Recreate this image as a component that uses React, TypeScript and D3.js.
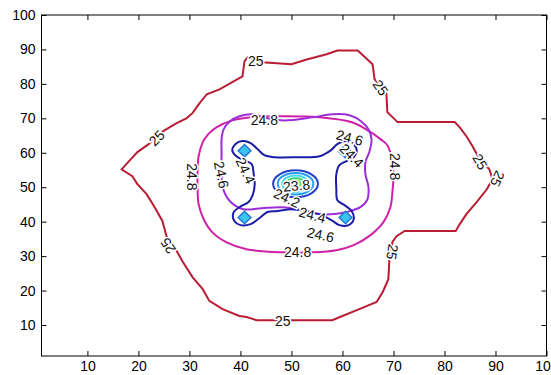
import React, { useEffect, useRef } from 'react'
import * as d3 from 'd3'

const xTicks = [10, 20, 30, 40, 50, 60, 70, 80, 90, 100]
const yTicks = [10, 20, 30, 40, 50, 60, 70, 80, 90, 100]

// contour lines, points (data units)
const contour25: [number, number][] = [
  [16.7, 55.2], [18.3, 57.8], [19.8, 60.2], [22.0, 62.5], [23.6, 64.8], [25.1, 66.5],
  [27.5, 68.6], [29.4, 70.0], [30.6, 71.5], [31.4, 73.2], [32.0, 74.4], [33.4, 77.0],
  [35.9, 78.4], [38.4, 80.5], [40.4, 82.2], [40.8, 86.6], [41.4, 87.7], [44.3, 86.3],
  [50.0, 85.7], [53.0, 87.1], [56.9, 88.6], [59.0, 89.7], [63.0, 89.7], [64.9, 87.1],
  [65.9, 85.7], [66.3, 81.3], [68.6, 77.6], [68.8, 71.8], [70.8, 68.9], [82.0, 68.9],
  [83.0, 67.4], [84.3, 64.8], [85.5, 61.9], [86.9, 58.1], [88.8, 55.2], [89.4, 52.3],
  [88.3, 49.4], [86.3, 45.7], [84.3, 42.2], [83.0, 39.3], [82.2, 37.3], [72.2, 37.3],
  [70.6, 35.8], [69.8, 34.1], [69.2, 29.1], [69.0, 23.3], [67.9, 19.6], [66.7, 16.7],
  [63.3, 14.6], [60.0, 12.6], [58.0, 11.4], [43.2, 11.4], [41.2, 12.3], [39.8, 12.6],
  [36.5, 14.6], [33.9, 17.0], [32.6, 20.4], [30.6, 23.9], [28.6, 28.6], [27.5, 31.5],
  [25.5, 35.8], [24.7, 40.2], [23.6, 43.1], [22.8, 45.1], [21.6, 48.0], [19.8, 50.9],
  [18.8, 53.2]
]

const contour248: [number, number][] = [
  [31.6, 49.4], [31.6, 55.2], [31.8, 59.0], [32.6, 63.0], [33.7, 65.4], [35.3, 67.4],
  [38.4, 69.4], [42.0, 70.3], [47.7, 70.6], [55.5, 70.3], [62.0, 68.8], [65.3, 66.2],
  [67.5, 63.9], [68.8, 62.2], [69.6, 58.7], [70.0, 53.8], [69.8, 48.8], [69.4, 44.2],
  [68.0, 39.8], [65.5, 36.1], [62.2, 33.2], [58.8, 31.7], [54.1, 31.1], [48.3, 31.1],
  [41.2, 32.0], [37.3, 34.0], [34.5, 36.9], [32.8, 40.7], [31.8, 45.1]
]

const contour246: [number, number][] = [
  [36.3, 60.2], [36.3, 63.9], [36.7, 66.8], [37.9, 69.1], [39.8, 70.6], [42.2, 71.2],
  [45.3, 70.0], [48.6, 69.4], [54.1, 70.3], [58.0, 71.2], [61.4, 70.9], [63.7, 69.1],
  [65.1, 66.8], [65.7, 63.9], [65.3, 60.4], [64.5, 57.3], [64.5, 53.8], [65.1, 50.0],
  [64.9, 46.5], [63.5, 44.2], [60.8, 42.8], [58.4, 42.2], [55.5, 42.2], [52.4, 43.3],
  [48.1, 44.2], [44.1, 43.9], [40.6, 43.6], [38.3, 45.4], [36.7, 49.1], [36.3, 53.2]
]

const contour244: [number, number][] = [
  [42.2, 56.7], [40.8, 57.8], [39.2, 59.0], [38.4, 60.7], [39.0, 62.5], [40.4, 63.4],
  [42.0, 62.8], [43.4, 61.0], [44.7, 59.3], [46.7, 58.7], [51.0, 58.7], [55.5, 59.0],
  [57.7, 60.7], [59.0, 62.5], [60.6, 63.4], [62.2, 62.5], [62.8, 60.5], [62.2, 58.7],
  [60.8, 57.6], [59.4, 56.4], [58.8, 53.8], [58.8, 49.4], [59.0, 46.2], [60.4, 44.8],
  [61.8, 43.1], [62.2, 40.7], [61.2, 39.0], [59.4, 39.0], [57.9, 40.4], [55.9, 41.9],
  [52.6, 43.1], [50.0, 43.6], [47.3, 43.1], [45.3, 42.8], [43.7, 41.0], [42.0, 39.3],
  [40.0, 39.0], [38.8, 40.2], [38.6, 42.5], [39.8, 44.2], [41.6, 45.7], [42.4, 47.7],
  [42.8, 50.9], [42.6, 53.8]
]

// small closed contours round the dip in the middle
const ringLevels = [24.2, 24.0, 23.8, 23.6, 23.4]
const ringRx = [4.4, 3.5, 2.6, 1.8, 1.0]
const ringRy = [3.9, 3.1, 2.4, 1.7, 1.0]
const ringCenter: [number, number] = [50.8, 51.0]

// four little lows at the corners of the cross
const lowX = [40.8, 60.5, 40.8, 60.6]
const lowY = [60.6, 60.4, 41.2, 41.2]
const lowRx = 1.25
const lowRy = 1.8

// inline contour labels
const labelText = ['25', '25', '25', '25', '25', '25', '25', '25', '24.8', '24.8', '24.8', '24.8',
  '24.6', '24.6', '24.6', '24.4', '24.4', '24.4', '23.8', '24.2']
const labelX = [43.0, 23.6, 67.5, 87.0, 90.4, 69.8, 48.3, 25.8, 44.7, 30.5, 70.4, 51.2,
  61.4, 36.3, 55.7, 41.0, 54.1, 61.8, 51.0, 49.1]
const labelY = [86.8, 64.3, 78.9, 57.4, 52.5, 31.2, 11.2, 33.0, 69.4, 53.0, 56.0, 31.2,
  64.4, 53.6, 36.2, 54.8, 42.0, 59.2, 50.5, 46.9]
const labelAngle = [0, -45, 55, 60, 115, 100, 0, -124, 0, 90, 90, 0,
  15, 78, 12, 65, 15, 45, -5, 25]

const levelColor: Record<string, string> = {
  '25': '#b81d34',
  '24.8': '#cf21a6',
  '24.6': '#9c2ed8',
  '24.4': '#1c1ca6',
  '24.2': '#2440c8',
  '24': '#2a9cec',
  '23.8': '#44dcea',
  '23.6': '#4cd47a',
  '23.4': '#6ee04c'
}

const W = 551
const H = 375

const App = () => {
  const svgRef = useRef<SVGSVGElement>(null)

  useEffect(() => {
    const svg = d3.select(svgRef.current)
    svg.selectAll('*').remove()

    const x = d3.scaleLinear().domain([1, 100]).range([41.5, 546.5])
    const y = d3.scaleLinear().domain([1, 100]).range([356, 15])

    svg.append('rect').attr('width', W).attr('height', H).attr('fill', '#fff')

    const plot = svg.append('g')

    const line = d3.line<[number, number]>().x(d => x(d[0])).y(d => y(d[1]))

    // outer 25 line is jagged, the rest are smooth
    plot.append('path')
      .attr('d', line.curve(d3.curveLinearClosed)(contour25))
      .attr('fill', 'none').attr('stroke', levelColor['25']).attr('stroke-width', 2)

    const smooth: [[number, number][], string][] = [
      [contour248, '24.8'], [contour246, '24.6'], [contour244, '24.4']
    ]
    smooth.forEach(([pts, lv]) => {
      plot.append('path')
        .attr('d', line.curve(d3.curveCatmullRomClosed)(pts))
        .attr('fill', 'none').attr('stroke', levelColor[lv]).attr('stroke-width', 2)
    })

    // lows at the corners
    lowX.forEach((cx, i) => {
      const cy = lowY[i]
      const pts: [number, number][] = [[cx - lowRx, cy], [cx, cy + lowRy], [cx + lowRx, cy], [cx, cy - lowRy]]
      plot.append('path')
        .attr('d', line.curve(d3.curveLinearClosed)(pts))
        .attr('fill', '#3cc4f0').attr('stroke', '#2378d8').attr('stroke-width', 1.5)
    })

    // centre rings
    ringLevels.forEach((lv, i) => {
      plot.append('ellipse')
        .attr('cx', x(ringCenter[0])).attr('cy', y(ringCenter[1]))
        .attr('rx', x(ringCenter[0] + ringRx[i]) - x(ringCenter[0]))
        .attr('ry', y(ringCenter[1]) - y(ringCenter[1] + ringRy[i]))
        .attr('fill', i === ringLevels.length - 1 ? '#8ef07a' : 'none')
        .attr('stroke', levelColor[String(lv)]).attr('stroke-width', 2)
    })

    // labels
    labelText.forEach((t, i) => {
      plot.append('text')
        .attr('transform', `translate(${x(labelX[i])},${y(labelY[i])}) rotate(${labelAngle[i]})`)
        .attr('text-anchor', 'middle')
        .attr('dy', '0.36em')
        .attr('font-family', 'Liberation Sans, Arial, sans-serif')
        .attr('font-size', 14)
        .attr('fill', '#111')
        .attr('stroke', '#fff').attr('stroke-width', 3).attr('paint-order', 'stroke')
        .text(t)
    })

    // axes, box with inward ticks
    const styleAxis = (g: any) => {
      g.select('.domain').remove()
      g.selectAll('line').attr('stroke', '#000')
      g.selectAll('text').attr('font-family', 'Liberation Sans, Arial, sans-serif').attr('font-size', 14).attr('fill', '#000')
    }

    svg.append('g').attr('transform', `translate(0,${y(1)})`)
      .call(d3.axisBottom(x).tickValues(xTicks).tickSize(-5).tickPadding(5))
      .call(styleAxis)
    svg.append('g').attr('transform', `translate(${x(1)},0)`)
      .call(d3.axisLeft(y).tickValues(yTicks).tickSize(-5).tickPadding(6))
      .call(styleAxis)
    svg.append('g').attr('transform', `translate(0,${y(100)})`)
      .call(d3.axisTop(x).tickValues(xTicks).tickSize(-5).tickFormat(() => ''))
      .call(styleAxis)
    svg.append('g').attr('transform', `translate(${x(100)},0)`)
      .call(d3.axisRight(y).tickValues(yTicks).tickSize(-5).tickFormat(() => ''))
      .call(styleAxis)

    svg.append('rect')
      .attr('x', x(1)).attr('y', y(100))
      .attr('width', x(100) - x(1)).attr('height', y(1) - y(100))
      .attr('fill', 'none').attr('stroke', '#000').attr('stroke-width', 1)
  }, [])

  return <svg ref={svgRef} width={W} height={H} style={{ position: 'absolute', left: 0, top: 0, display: 'block' }}></svg>
}

export default App
